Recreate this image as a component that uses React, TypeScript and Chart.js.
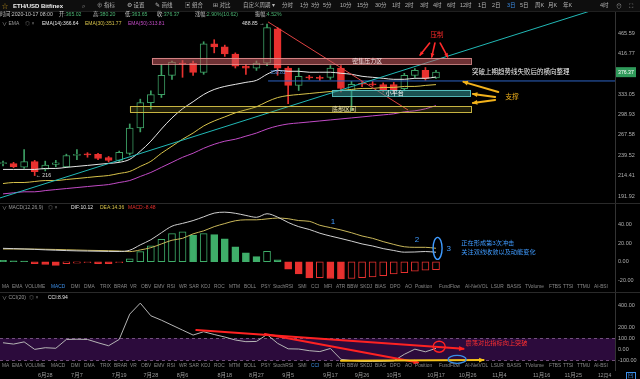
import React, { useEffect, useRef } from 'react';
import { Chart, registerables } from 'chart.js';
Chart.register(...registerables);

// ---------- categories / ticks ----------
const DATE_TICK_IDX = [4, 7, 11, 14, 17, 21, 24, 27, 31, 34, 37, 41, 44, 47, 51, 54];
const DATE_TICK_LABELS = ['6月28', '7月7', '7月19', '7月28', '8月6', '8月18', '8月27', '9月5', '9月17', '9月26', '10月5', '10月17', '10月26', '11月4', '11月16', '11月25'];
const PRICE_TICKS = [191.92, 214.41, 239.52, 267.58, 298.93, 333.05, 416.77, 465.59];
const MACD_TICKS = [-20, 0, 20, 40];
const CCI_TICKS = [-100, 0, 100, 200, 400];

// ---------- candles (3-day, ETH/USD) ----------
const OPEN = [229, 229, 224.5, 231.5, 222, 228, 225, 239.5, 240.7, 240.7, 236.7, 232.8, 242, 277.8, 318.8, 333, 370, 395.3, 395, 376, 438.9, 431.7, 415.4, 388.8, 384.6, 395.3, 476.6, 384.6, 350.2, 367, 366, 366, 384.6, 340.7, 353.5, 353, 352, 352, 344, 370, 380, 365.02];
const HIGH = [232, 230.5, 247, 233, 232, 233, 241, 247, 243, 242, 238, 245, 284, 325, 340, 392, 400, 401, 400, 444, 449, 436, 418, 392, 400, 488.85, 480, 388, 384.6, 370, 369, 390, 390, 358, 358, 358, 355, 356, 374, 384, 386, 380.2];
const LOW = [226, 224, 223, 214.5, 220, 225, 224, 234, 237, 234, 231, 231, 240, 272, 308, 328, 362, 366, 370, 372, 418, 410, 385, 372, 380, 390, 370, 317, 340.7, 362, 360, 362, 338, 305, 348, 349, 338, 337, 340, 366, 360, 363.65];
const CLOSE = [229.6, 225.2, 231.5, 219, 227, 230, 239.3, 240.7, 240, 235.4, 232.8, 243.3, 277.8, 318.8, 333.2, 370, 397.5, 393.5, 376, 438.9, 431.7, 415.4, 388.8, 384.6, 395.3, 479.3, 384.6, 350.2, 368.1, 365, 364, 384.6, 344.4, 352.1, 352.5, 351.5, 341, 342, 370, 380, 364, 376.37];

// ---------- EMA ----------
const EMA14 = [221.8, 221.8, 221.8, 221.8, 223.0, 223.0, 224.3, 225.5, 226.7, 228.0, 229.2, 230.5, 234.3, 244.9, 258.6, 276.3, 293.5, 308.4, 320.5, 333.3, 342.6, 348.3, 352.2, 356.1, 360.0, 372.1, 380.3, 378.2, 378.2, 376.2, 376.2, 376.2, 374.1, 372.1, 368.0, 366.0, 364.0, 362.0, 362.0, 364.0, 364.0, 366.64];
const EMA30 = [205.4, 206.6, 206.6, 207.7, 208.8, 208.8, 210.0, 211.1, 212.3, 213.5, 214.6, 217.0, 219.4, 225.5, 231.8, 242.2, 251.6, 261.4, 270.3, 280.9, 288.7, 295.1, 301.7, 306.7, 311.8, 320.5, 327.8, 331.4, 333.3, 335.1, 337.0, 338.8, 340.7, 342.6, 344.5, 344.5, 346.4, 346.4, 348.3, 348.3, 350.2, 351.77];
const EMA50 = [194.2, 195.3, 196.4, 196.4, 197.7, 198.8, 199.9, 201.0, 202.1, 203.2, 204.3, 206.6, 208.8, 213.5, 218.2, 224.3, 230.5, 236.9, 242.2, 248.8, 254.3, 258.6, 261.4, 265.8, 270.3, 276.3, 280.9, 284.0, 285.6, 287.1, 288.7, 290.3, 291.9, 293.5, 295.1, 296.8, 298.4, 300.1, 303.4, 305.0, 308.4, 313.81];

// ---------- MACD ----------
const DIF = [14.3, 14, 13.6, 13.2, 12.7, 12.3, 11.9, 11.6, 11.4, 11.2, 11, 10.9, 12.3, 18, 23.5, 31, 38, 41, 44, 48, 52, 53, 51.8, 49.5, 47.5, 51.3, 47.7, 42, 37.5, 34.5, 30.5, 27.5, 24.8, 22, 19, 16.8, 14, 12, 10.2, 10.4, 10.9, 10.12];
const DEA = [13.6, 13.6, 13.6, 13.5, 13.3, 13.1, 12.8, 12.5, 12.2, 12, 11.8, 11.5, 10.8, 12.6, 15, 19, 23, 25, 29.8, 33, 37.5, 40.8, 43.8, 44.8, 44.8, 45.8, 46.7, 46, 44, 43.2, 39, 36.5, 34, 31, 27.5, 25, 21.5, 18.5, 16, 15.4, 15.4, 14.36];
const MACD_HIST = [1.5, 1, 0.8, -2, -3, -4, -2, -1.5, -1, -2, -2, -1, 3, 10.8, 17, 24, 30, 32, 28.4, 30, 29, 24.4, 16, 9.5, 5.5, 11, 2, -8, -13, -17.4, -17, -18, -18.4, -18, -17, -16.4, -15, -13, -11.6, -10, -9, -8.48];

// ---------- CCI ----------
const CCI = [60, 48, 68, 0, 15, 10, 90, 92, 90, 60, 33, 90, 320, 420, 305, 265, 220, 175, 130, 160, 135, 112, 85, 70, 72, 135, 55, 5, 3, -12, -20, 8, -90, -102, -110, -110, -108, -105, -45, 2, -22, 8.94];
const CCI_BAND = [-100, 100];

// ---------- drawn annotations (index, value) ----------
const ZONE_NAMES = ['密集压力区', '小平台', '底部区间'];
const ZONE_TOP = [406.6, 341.7, 313.1];
const ZONE_BOTTOM = [393.4, 330.7, 303.1];
const ZONE_FROM = [14.1, 31.2, 12.0];
const ZONE_TO = [44.3, 44.3, 44.3];
const ZONE_LABEL_AT = [34.5, 37.1, 32.3];
const CYAN_TREND = [[-0.3, 189.9], [56.5, 533.5]];
const RED_TREND = [[25.1, 494.6], [38.35, 306.4]];
const BLUE_LEVEL = [[25.1, 358.8], [58, 358.8]];
const PRESS_ARROWS = [[[40.4, 441], [39.5, 413]], [[40.9, 441], [40.6, 409]], [[41.4, 441], [42.1, 409]]];
const SUPPORT_ARROWS = [[[46.9, 338], [43.6, 357]], [[46.6, 329], [44.5, 334.3]], [[46.6, 323.6], [44.5, 318.4]]];
const CCI_RED_ARROWS = [[[18.3, 175], [43.6, 5]], [[24.8, 139], [39.3, -120]]];
const CCI_YELLOW_ARROW = [[32, -104], [45.5, -97.5]];

const X_MIN = -0.284;
const X_MAX = 57.95;

const GREEN = '#3d9f64';
const RED = '#e8312f';
const FONT = '"Liberation Sans", "Noto Sans CJK SC", sans-serif';

function drawArrow(ctx, x1, y1, x2, y2, color, w, head) {
  ctx.save();
  ctx.strokeStyle = color;
  ctx.fillStyle = color;
  ctx.lineWidth = w;
  ctx.lineCap = 'round';
  ctx.beginPath();
  ctx.moveTo(x1, y1);
  ctx.lineTo(x2, y2);
  ctx.stroke();
  const a = Math.atan2(y2 - y1, x2 - x1);
  ctx.beginPath();
  ctx.moveTo(x2 + Math.cos(a) * 1, y2 + Math.sin(a) * 1);
  ctx.lineTo(x2 - head * Math.cos(a - 0.5), y2 - head * Math.sin(a - 0.5));
  ctx.lineTo(x2 - head * Math.cos(a + 0.5), y2 - head * Math.sin(a + 0.5));
  ctx.closePath();
  ctx.fill();
  ctx.restore();
}

function text(ctx, s, x, y, color, size, align = 'left') {
  ctx.save();
  ctx.font = `${size}px ${FONT}`;
  ctx.fillStyle = color;
  ctx.textAlign = align;
  ctx.textBaseline = 'middle';
  ctx.fillText(s, x, y);
  ctx.restore();
}

function ellipse(ctx, x, y, rx, ry, color, w) {
  ctx.save();
  ctx.strokeStyle = color;
  ctx.lineWidth = w;
  ctx.beginPath();
  ctx.ellipse(x, y, rx, ry, 0, 0, Math.PI * 2);
  ctx.stroke();
  ctx.restore();
}

const overlayPlugin = {
  id: 'overlay',
  beforeDatasetsDraw(chart) {
    const { ctx, chartArea } = chart;
    const { yC } = chart.scales;
    const t = yC.getPixelForValue(CCI_BAND[1]);
    const b = yC.getPixelForValue(CCI_BAND[0]);
    ctx.save();
    ctx.fillStyle = '#2c0b3c';
    ctx.fillRect(chartArea.left, t, chartArea.right - chartArea.left, b - t);
    ctx.strokeStyle = 'rgba(190,140,200,0.55)';
    ctx.setLineDash([3, 3]);
    ctx.lineWidth = 1;
    ctx.beginPath();
    ctx.moveTo(chartArea.left, Math.round(t) + 0.5);
    ctx.lineTo(chartArea.right, Math.round(t) + 0.5);
    ctx.moveTo(chartArea.left, Math.round(b) + 0.5);
    ctx.lineTo(chartArea.right, Math.round(b) + 0.5);
    ctx.stroke();
    ctx.restore();
  },
  afterDatasetsDraw(chart) {
    const { ctx, chartArea } = chart;
    const { x, yP, yM, yC } = chart.scales;
    const X = (v) => x.getPixelForValue(v);

    // zones
    const zoneFill = ['rgba(200,90,95,0.55)', 'rgba(50,150,150,0.55)', 'rgba(150,140,40,0.22)'];
    const zoneStroke = ['rgba(235,150,150,0.8)', 'rgba(90,200,200,0.9)', 'rgba(210,190,70,0.95)'];
    const zoneText = ['#f3dede', '#ffffff', '#efe6b0'];
    ZONE_NAMES.forEach((name, k) => {
      const x1 = X(ZONE_FROM[k]);
      const x2 = X(ZONE_TO[k]);
      const y1 = yP.getPixelForValue(ZONE_TOP[k]);
      const y2 = yP.getPixelForValue(ZONE_BOTTOM[k]);
      ctx.save();
      ctx.fillStyle = zoneFill[k];
      ctx.fillRect(x1, y1, x2 - x1, y2 - y1);
      ctx.strokeStyle = zoneStroke[k];
      ctx.lineWidth = 1;
      ctx.strokeRect(Math.round(x1) + 0.5, Math.round(y1) + 0.5, Math.round(x2 - x1), Math.round(y2 - y1));
      ctx.restore();
      text(ctx, name, X(ZONE_LABEL_AT[k]), (y1 + y2) / 2 + 0.5, zoneText[k], 6, 'center');
    });

    // pressure arrows
    PRESS_ARROWS.forEach(([a, b]) => drawArrow(ctx, X(a[0]), yP.getPixelForValue(a[1]), X(b[0]), yP.getPixelForValue(b[1]), '#ff2a2a', 1.6, 4));
    text(ctx, '压制', X(41.1), yP.getPixelForValue(460.7), '#ff2a2a', 6.5, 'center');
    // support arrows
    SUPPORT_ARROWS.forEach(([a, b]) => drawArrow(ctx, X(a[0]), yP.getPixelForValue(a[1]), X(b[0]), yP.getPixelForValue(b[1]), '#f2b21b', 2, 5));
    text(ctx, '支撑', X(48.2), yP.getPixelForValue(328.9), '#f2b21b', 6.8, 'center');
    text(ctx, '突破上期趋势线失败后的横向整理', X(44.4), yP.getPixelForValue(376.3), '#f0f0f0', 6.5, 'left');
    text(ctx, '358.81', X(25.3), yP.getPixelForValue(375), '#4f8fe0', 5, 'left');
    text(ctx, '488.85 →', X(24.75), yP.getPixelForValue(490), '#dddddd', 5.2, 'right');
    text(ctx, '← 216', X(3.1), yP.getPixelForValue(215), '#dddddd', 5.2, 'left');

    // current price tag
    const py = yP.getPixelForValue(CLOSE[CLOSE.length - 1]);
    ctx.save();
    ctx.fillStyle = '#2f9a5a';
    ctx.fillRect(chartArea.right + 1, py - 5, 20, 10);
    ctx.restore();
    text(ctx, CLOSE[CLOSE.length - 1].toFixed(2), chartArea.right + 3, py + 0.5, '#ffffff', 5.2, 'left');

    // MACD annotations
    const blue = '#3f9bff';
    text(ctx, '1', X(31.25), yM.getPixelForValue(43.2), blue, 8, 'center');
    text(ctx, '2', X(39.2), yM.getPixelForValue(23.2), blue, 8, 'center');
    text(ctx, '3', X(42.2), yM.getPixelForValue(13.6), blue, 8, 'center');
    ellipse(ctx, X(41.15), yM.getPixelForValue(14.3), 4.5, 11, blue, 1.4);
    text(ctx, '正在形成第3次冲击', X(43.4), yM.getPixelForValue(20), blue, 6.2, 'left');
    text(ctx, '关注双线收敛以及动能变化', X(43.4), yM.getPixelForValue(10.4), blue, 6.2, 'left');

    // CCI annotations
    CCI_RED_ARROWS.forEach(([a, b]) => drawArrow(ctx, X(a[0]), yC.getPixelForValue(a[1]), X(b[0]), yC.getPixelForValue(b[1]), '#ff2222', 2, 5));
    drawArrow(ctx, X(CCI_YELLOW_ARROW[0][0]), yC.getPixelForValue(CCI_YELLOW_ARROW[0][1]), X(CCI_YELLOW_ARROW[1][0]), yC.getPixelForValue(CCI_YELLOW_ARROW[1][1]), '#f5c21b', 2, 5);
    ellipse(ctx, X(41.3), yC.getPixelForValue(24), 6, 5.5, '#ff2222', 1.4);
    ellipse(ctx, X(43), yC.getPixelForValue(-91), 9, 4, '#3a8ee6', 1.4);
    text(ctx, '震荡对比指标向上突破', X(43.8), yC.getPixelForValue(55), '#ff3030', 6.2, 'left');

    // panel separators
    ctx.save();
    ctx.strokeStyle = '#2a2a2a';
    ctx.lineWidth = 1;
    ctx.beginPath();
    ctx.moveTo(0, Math.round(yM.top) + 0.5);
    ctx.lineTo(chart.width, Math.round(yM.top) + 0.5);
    ctx.moveTo(0, Math.round(yC.top) + 0.5);
    ctx.lineTo(chart.width, Math.round(yC.top) + 0.5);
    ctx.stroke();
    ctx.restore();
  },
};

const S = (left, top, color, size = 5.5, extra = {}) => ({
  position: 'absolute', left, top, color, fontSize: size, lineHeight: '1', whiteSpace: 'nowrap', ...extra,
});

const TABS = ['MA', 'EMA', 'VOLUME', 'MACD', 'DMI', 'DMA', 'TRIX', 'BRAR', 'VR', 'OBV', 'EMV', 'RSI', 'WR', 'SAR', 'KDJ', 'ROC', 'MTM', 'BOLL', 'PSY', 'StochRSI', 'SMI', 'CCI', 'MFI', 'ATR', 'BBW', 'SKDJ', 'BIAS', 'DPO', 'AO', 'Position', 'FundFlow', 'AI-NetVOL', 'LSUR', 'BASIS', 'TVolume', 'FTBS', 'TTSI', 'TTMU', 'AI-BSI'];
const TAB_X = [2, 12, 25, 51, 71, 84, 100, 114, 130, 141, 154, 167, 179, 189, 201, 214, 229, 244, 261, 273, 298, 311, 324, 336, 347, 360, 375, 390, 405, 415, 439, 465, 491, 507, 525, 549, 563, 577, 594];

function TabRow({ top, active }) {
  return (
    <>
      {TABS.map((t, i) => (
        <span key={t} style={S(TAB_X[i], top, t === active ? '#3d8fe8' : '#8a8a8a', 4.8)}>{t}</span>
      ))}
    </>
  );
}

const TOOL_ITEMS = [
  ['⊕ 指标', 97], ['⚙ 设置', 127], ['✎ 画线', 155], ['▣ 组合', 185], ['⊞ 对比', 213], ['自定义周期 ▾', 243],
  ['分时', 282], ['1分', 300], ['3分', 311], ['5分', 323], ['10分', 340], ['15分', 357], ['30分', 375], ['1时', 392],
  ['2时', 405], ['3时', 420], ['4时', 433], ['6时', 447], ['12时', 460], ['1日', 478], ['2日', 492], ['3日', 507],
  ['5日', 520], ['周K', 535], ['月K', 548], ['年K', 563],
];

export default function App() {
  const ref = useRef(null);
  useEffect(() => {
    document.body.style.margin = '0';
    document.body.style.background = '#000';
    const idx = OPEN.map((_, i) => i);
    const up = idx.map((i) => CLOSE[i] >= OPEN[i]);
    const histColor = idx.map((i) => (MACD_HIST[i] >= 0 ? '#3fae6a' : RED));
    const histFill = idx.map((i) => {
      const v = MACD_HIST[i];
      const p = i > 0 ? MACD_HIST[i - 1] : v;
      const hollow = v > p;
      return hollow ? '#000000' : histColor[i];
    });
    const tickFont = { size: 5.5, family: FONT };
    const yCommon = {
      position: 'right',
      stack: 'panes',
      offset: false,
      grid: { display: false, drawTicks: false },
      border: { display: true, color: '#333333' },
      afterFit: (s) => { s.width = 25; },
    };
    const chart = new Chart(ref.current, {
      type: 'line',
      data: {
        datasets: [
          {
            type: 'bar', yAxisID: 'yP', order: 5, grouped: false, barThickness: 1,
            data: idx.map((i) => ({ x: i, y: [LOW[i], HIGH[i]] })),
            backgroundColor: idx.map((i) => (up[i] ? GREEN : RED)),
          },
          {
            type: 'bar', yAxisID: 'yP', order: 4, grouped: false, barThickness: 7, minBarLength: 1,
            data: idx.map((i) => ({ x: i, y: [OPEN[i], CLOSE[i]] })),
            backgroundColor: idx.map((i) => (up[i] ? '#000000' : RED)),
            borderColor: idx.map((i) => (up[i] ? GREEN : RED)),
            borderWidth: 1, borderSkipped: false,
          },
          { yAxisID: 'yP', order: 3, data: idx.map((i) => ({ x: i, y: EMA50[i] })), borderColor: '#c24bc6', borderWidth: 1, pointRadius: 0, cubicInterpolationMode: 'monotone' },
          { yAxisID: 'yP', order: 3, data: idx.map((i) => ({ x: i, y: EMA30[i] })), borderColor: '#d8c34a', borderWidth: 1, pointRadius: 0, cubicInterpolationMode: 'monotone' },
          { yAxisID: 'yP', order: 3, data: idx.map((i) => ({ x: i, y: EMA14[i] })), borderColor: '#e6e6e6', borderWidth: 1, pointRadius: 0, cubicInterpolationMode: 'monotone' },
          { yAxisID: 'yP', order: 2, data: CYAN_TREND.map(([a, b]) => ({ x: a, y: b })), borderColor: '#21b8b5', borderWidth: 1, pointRadius: 0 },
          { yAxisID: 'yP', order: 2, data: RED_TREND.map(([a, b]) => ({ x: a, y: b })), borderColor: 'rgba(235,70,70,0.95)', borderWidth: 1, pointRadius: 0 },
          { yAxisID: 'yP', order: 2, data: BLUE_LEVEL.map(([a, b]) => ({ x: a, y: b })), borderColor: '#2c64c4', borderWidth: 1, pointRadius: 0 },
          {
            type: 'bar', yAxisID: 'yM', order: 4, grouped: false, barThickness: 7,
            data: idx.map((i) => ({ x: i, y: MACD_HIST[i] })),
            backgroundColor: histFill, borderColor: histColor, borderWidth: 1, borderSkipped: false,
          },
          { yAxisID: 'yM', order: 2, data: idx.map((i) => ({ x: i, y: DIF[i] })), borderColor: '#cfcfcf', borderWidth: 1, pointRadius: 0, cubicInterpolationMode: 'monotone' },
          { yAxisID: 'yM', order: 2, data: idx.map((i) => ({ x: i, y: DEA[i] })), borderColor: '#c9b75a', borderWidth: 1, pointRadius: 0, cubicInterpolationMode: 'monotone' },
          { yAxisID: 'yC', order: 2, data: idx.map((i) => ({ x: i, y: CCI[i] })), borderColor: '#b5b5b5', borderWidth: 1, pointRadius: 0 },
        ],
      },
      options: {
        animation: false,
        responsive: false,
        maintainAspectRatio: false,
        events: [],
        layout: { padding: { top: 12, left: 0, right: 0, bottom: 0 } },
        plugins: { legend: { display: false }, tooltip: { enabled: false } },
        scales: {
          x: {
            type: 'linear', min: X_MIN, max: X_MAX, offset: false,
            grid: { display: false, drawTicks: false }, border: { display: false },
            afterBuildTicks: (s) => { s.ticks = DATE_TICK_IDX.map((v) => ({ value: v })); },
            afterFit: (s) => { s.height = 9; },
            ticks: {
              autoSkip: false, maxRotation: 0, padding: 2, color: '#9a9a9a', font: tickFont,
              callback: (v) => { const k = DATE_TICK_IDX.indexOf(Number(v)); return k >= 0 ? DATE_TICK_LABELS[k] : ''; },
            },
          },
          yP: {
            ...yCommon, type: 'logarithmic', stackWeight: 191, min: 184.8, max: 522,
            afterBuildTicks: (s) => { s.ticks = PRICE_TICKS.map((v) => ({ value: v })); },
            ticks: { autoSkip: false, padding: 3, color: '#b0b0b0', font: tickFont, callback: (v) => Number(v).toFixed(2) },
          },
          yM: {
            ...yCommon, type: 'linear', stackWeight: 89, min: -32.4, max: 62.8,
            afterBuildTicks: (s) => { s.ticks = MACD_TICKS.map((v) => ({ value: v })); },
            ticks: { autoSkip: false, padding: 3, color: '#b0b0b0', font: tickFont, callback: (v) => Number(v).toFixed(2) },
          },
          yC: {
            ...yCommon, type: 'linear', stackWeight: 78, min: -187.3, max: 520.9,
            afterBuildTicks: (s) => { s.ticks = CCI_TICKS.map((v) => ({ value: v })); },
            ticks: { autoSkip: false, padding: 3, color: '#b0b0b0', font: tickFont, callback: (v) => Number(v).toFixed(2) },
          },
        },
      },
      plugins: [overlayPlugin],
    });
    return () => chart.destroy();
  }, []);

  const G = '#4db574';
  return (
    <div style={{ position: 'relative', width: 640, height: 379, background: '#000', overflow: 'hidden', fontFamily: FONT }}>
      <canvas ref={ref} width={640} height={379} style={{ position: 'absolute', left: 0, top: 0 }} />
      {/* toolbar */}
      <div style={{ position: 'absolute', left: 0, top: 0, width: 640, height: 11, background: '#0e0e0e', borderBottom: '1px solid #1f1f1f' }} />
      <span style={S(2, 3, '#d9a520', 6)}>☆</span>
      <span style={S(13, 3, '#f0f0f0', 6, { fontWeight: 'bold' })}>ETH/USD Bitfinex</span>
      <span style={S(82, 3, '#9a9a9a', 6)}>⌕</span>
      {TOOL_ITEMS.map(([t, l]) => (
        <span key={t} style={S(l, 3, t === '3日' ? '#3d8fe8' : '#b5b5b5', 5.5)}>{t}</span>
      ))}
      <span style={S(600, 3, '#b5b5b5', 5.5)}>4时</span>
      <span style={S(616, 2.5, '#9a9a9a', 6)}>⊙</span>
      <span style={S(629, 2.5, '#9a9a9a', 6)}>⛶</span>
      {/* info line */}
      <span style={S(0, 12, '#c8c8c8', 5.2)}>时间:2020-10-17 08:00</span>
      <span style={S(59, 12, '#c8c8c8', 5.2)}>开:<span style={{ color: G }}>365.02</span></span>
      <span style={S(93, 12, '#c8c8c8', 5.2)}>高:<span style={{ color: G }}>380.20</span></span>
      <span style={S(125, 12, '#c8c8c8', 5.2)}>低:<span style={{ color: G }}>363.65</span></span>
      <span style={S(157, 12, '#c8c8c8', 5.2)}>收:<span style={{ color: G }}>376.37</span></span>
      <span style={S(195, 12, '#c8c8c8', 5.2)}>涨幅:<span style={{ color: G }}>2.90%(10.62)</span></span>
      <span style={S(255, 12, '#c8c8c8', 5.2)}>振幅:<span style={{ color: G }}>4.52%</span></span>
      {/* EMA legend */}
      <span style={S(2, 20.5, '#9a9a9a', 5)}>∨ EMA</span>
      <span style={S(25, 20.5, '#777', 5)}>◎ ×</span>
      <span style={S(42, 20.5, '#e6e6e6', 5)}>EMA(14):366.64</span>
      <span style={S(85, 20.5, '#d8c34a', 5)}>EMA(30):351.77</span>
      <span style={S(128, 20.5, '#c24bc6', 5)}>EMA(50):313.81</span>
      {/* MACD legend */}
      <span style={S(2, 204.5, '#9a9a9a', 5)}>∨ MACD(12,26,9)</span>
      <span style={S(48, 204.5, '#777', 5)}>◎ ×</span>
      <span style={S(71, 204.5, '#e6e6e6', 5)}>DIF:10.12</span>
      <span style={S(100, 204.5, '#d8c34a', 5)}>DEA:14.36</span>
      <span style={S(128, 204.5, '#e8312f', 5)}>MACD:-8.48</span>
      <TabRow top={284.5} active="MACD" />
      {/* CCI legend */}
      <span style={S(2, 294.5, '#9a9a9a', 5)}>∨ CCI(20)</span>
      <span style={S(29, 294.5, '#777', 5)}>◎ ×</span>
      <span style={S(48, 294.5, '#e6e6e6', 5)}>CCI:8.94</span>
      <TabRow top={363.5} active="CCI" />
      {/* date axis extras */}
      <span style={S(598, 372.5, '#9a9a9a', 5)}>12月4</span>
      <span style={S(626, 372, '#3d8fe8', 5.5, { border: '1px solid #3d8fe8', padding: '0 1px' })}>回</span>
    </div>
  );
}
